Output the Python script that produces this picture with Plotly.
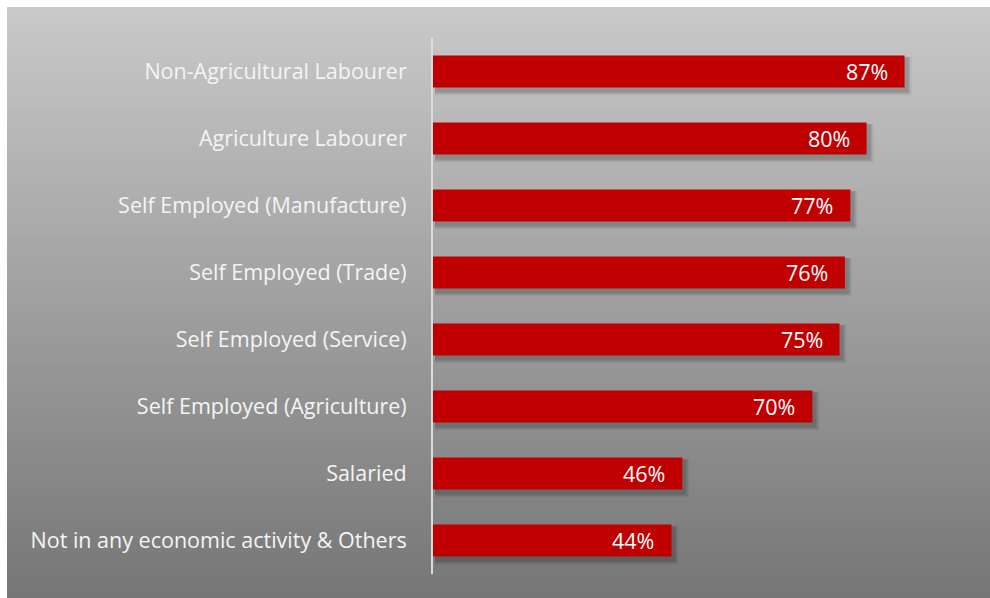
import plotly.graph_objects as go

# Share of households by occupation type
categories = [
    "Non-Agricultural Labourer",
    "Agriculture Labourer",
    "Self Employed (Manufacture)",
    "Self Employed (Trade)",
    "Self Employed (Service)",
    "Self Employed (Agriculture)",
    "Salaried",
    "Not in any economic activity & Others",
]
values = [87, 80, 77, 76, 75, 70, 46, 44]

W, H = 990, 598
ML, MR, MT, MB = 433, 15, 38, 24
PW, PH = W - ML - MR, H - MT - MB
XMAX = 100
BAR_W = 0.48
RED = "#C00000"
FONT = "Open Sans"
FSIZE = 21.5

fig = go.Figure()

fig.add_trace(go.Bar(
    x=values, y=categories, orientation="h",
    marker=dict(color=RED, line=dict(width=0)),
    width=BAR_W, hoverinfo="skip",
))

shapes = []

# vertical gradient panel behind the chart
def px_to_paper_x(px):
    return (px - ML) / PW

def px_to_paper_y(py):
    return (H - MB - py) / PH

top_c, bot_c = (201, 201, 201), (118, 118, 118)
y_top, y_bot = 7, 598
n = 120
step = (y_bot - y_top) / n
for i in range(n):
    t = (i + 0.5) / n
    c = tuple(round(a + (b - a) * t) for a, b in zip(top_c, bot_c))
    y_end = min(y_top + (i + 1) * step + 3, y_bot)
    shapes.append(dict(
        type="rect", xref="paper", yref="paper", layer="below",
        x0=px_to_paper_x(7), x1=px_to_paper_x(991),
        y0=px_to_paper_y(y_top + i * step), y1=px_to_paper_y(y_end),
        fillcolor="rgb(%d,%d,%d)" % c, line=dict(width=0),
    ))

# soft drop shadows under the bars
ux = XMAX / PW             # data units per pixel (x)
uy = len(categories) / PH  # category units per pixel (y)
for idx, v in enumerate(values):
    for spread, alpha in [(5, 0.05), (3.5, 0.08), (2, 0.11)]:
        shapes.append(dict(
            type="rect", xref="x", yref="y", layer="below",
            x0=0 + 2 * ux, x1=v + (2 + spread) * ux,
            y0=idx - BAR_W / 2 + (3 - spread * 0.4) * uy,
            y1=idx + BAR_W / 2 + (3 + spread) * uy,
            fillcolor="rgba(0,0,0,%.2f)" % alpha, line=dict(width=0),
        ))

# value labels inside the bar ends
annotations = []
for cat, v in zip(categories, values):
    annotations.append(dict(
        x=v, y=cat, xref="x", yref="y", text=f"{v}%",
        xanchor="right", xshift=-15, showarrow=False,
        font=dict(family=FONT, size=FSIZE, color="#ffffff"),
    ))

fig.update_layout(
    width=W, height=H,
    margin=dict(l=ML, r=MR, t=MT, b=MB, pad=0),
    paper_bgcolor="white",
    plot_bgcolor="rgba(0,0,0,0)",
    showlegend=False,
    shapes=shapes,
    annotations=annotations,
    xaxis=dict(range=[0, XMAX], visible=False, fixedrange=True),
    yaxis=dict(
        range=[len(categories) - 0.5, -0.5],
        showgrid=False, zeroline=False,
        showline=True, linecolor="#dcdcdc", linewidth=2,
        ticks="", ticklabelstandoff=20,
        tickfont=dict(family=FONT, size=FSIZE, color="#f4f4f4"),
    ),
)

fig.write_html("out.html")
